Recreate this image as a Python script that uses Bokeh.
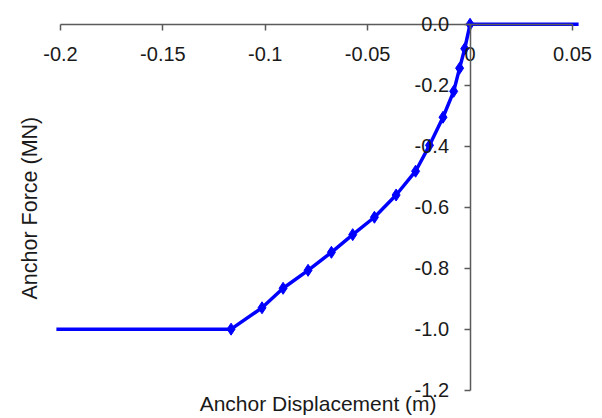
import math
from bokeh.plotting import figure
from bokeh.models import Range1d, LinearAxis, FixedTicker, Label, ColumnDataSource
from bokeh.embed import file_html
from bokeh.resources import INLINE

# data
displacement = [-0.202, -0.1167, -0.1016, -0.0913, -0.0791, -0.0677, -0.0573, -0.0467,
                -0.0361, -0.0266, -0.0198, -0.0132, -0.0080, -0.0051, -0.0026, 0.0, 0.053]
force = [-1.0, -1.0, -0.930, -0.866, -0.807, -0.748, -0.690, -0.633,
         -0.560, -0.482, -0.397, -0.305, -0.220, -0.144, -0.080, 0.0, 0.0]
x_ticks = [-0.2, -0.15, -0.1, -0.05, 0.0, 0.05]
x_tick_labels = ["-0.2", "-0.15", "-0.1", "-0.05", "0", "0.05"]
y_ticks = [0.0, -0.2, -0.4, -0.6, -0.8, -1.0, -1.2]
y_tick_labels = ["0.0", "-0.2", "-0.4", "-0.6", "-0.8", "-1.0", "-1.2"]
x_title = "Anchor Displacement (m)"
y_title = "Anchor Force (MN)"

FONT = "Liberation Sans"
AX = "#5a5a5a"
TXT = "#1a1a1a"

p = figure(width=600, height=418, output_backend="svg", toolbar_location=None,
           x_axis_location=None, y_axis_location=None,
           x_range=Range1d(-0.2293, 0.0637), y_range=Range1d(-1.2931, 0.0780),
           min_border=0)
p.grid.visible = False
p.outline_line_color = None
p.background_fill_color = "white"
p.border_fill_color = "white"

src = ColumnDataSource(dict(x=displacement, y=force))
msrc = ColumnDataSource(dict(x=displacement[1:-1], y=force[1:-1]))
p.line("x", "y", source=src, line_color="#0000ff", line_width=3.5)
p.scatter("x", "y", source=msrc, marker="diamond", size=12, fill_color="#0000ff",
          line_color="#0000ff")

xa = LinearAxis(fixed_location=0, bounds=(-0.2, 0.05),
                ticker=FixedTicker(ticks=x_ticks),
                major_label_overrides=dict(zip(x_ticks, x_tick_labels)))
ya = LinearAxis(fixed_location=0, bounds=(-1.2, 0.0),
                ticker=FixedTicker(ticks=y_ticks),
                major_label_overrides=dict(zip(y_ticks, y_tick_labels)))
for a in (xa, ya):
    a.axis_line_color = AX
    a.axis_line_width = 1.5
    a.major_tick_line_color = AX
    a.major_tick_line_width = 1.5
    a.major_tick_out = 6
    a.major_tick_in = 0
    a.minor_tick_out = 0
    a.minor_tick_in = 0
    a.major_label_text_font = FONT
    a.major_label_text_font_size = "20px"
    a.major_label_text_color = TXT
xa.major_label_standoff = 17
ya.major_label_standoff = 15
p.add_layout(xa, "below")
p.add_layout(ya, "left")

p.add_layout(Label(x=-0.0742, y=-1.2426, text=x_title, text_align="center",
                   text_baseline="middle", text_font=FONT, text_font_size="21px",
                   text_color=TXT))
p.add_layout(Label(x=-0.2148, y=-0.603, text=y_title, angle=math.pi / 2,
                   text_align="center", text_baseline="middle", text_font=FONT,
                   text_font_size="21.5px", text_color=TXT))

open("out.html", "w").write(file_html(p, INLINE))
